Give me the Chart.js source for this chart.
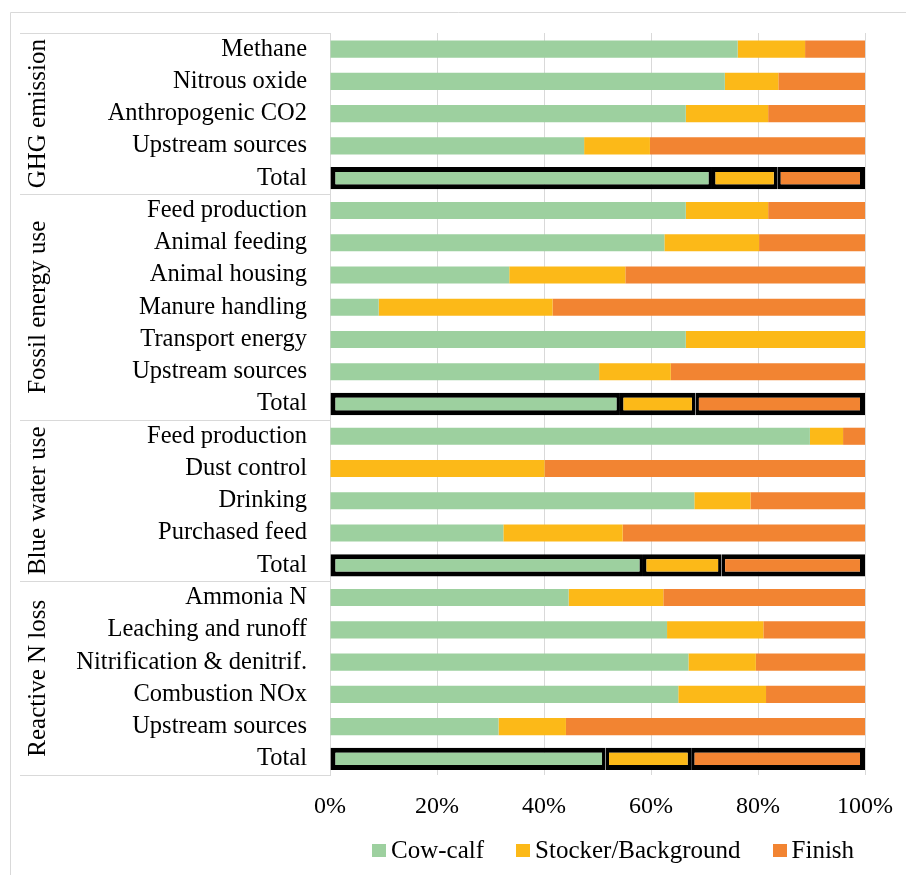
<!DOCTYPE html>
<html>
<head>
<meta charset="utf-8">
<title>Contribution by production phase</title>
<script src="https://cdn.jsdelivr.net/npm/chart.js@4.4.1/dist/chart.umd.min.js"></script>
<style>
  body { margin: 0; background: #fff; }
  #wrap { position: relative; width: 906px; height: 875px; overflow: hidden; }
  #legend { position: absolute; left: 372px; top: 836px; display: flex; font: 25px "Liberation Serif", serif; line-height: 28px; color: #000; }
  .item { display: flex; align-items: center; margin-right: 32px; }
  .box { width: 14px; height: 13px; margin-right: 5px; }
</style>
</head>
<body>
<div id="wrap">
  <canvas id="chart6" width="906" height="875"></canvas>
  <div id="legend"></div>
</div>
<script>
const categories = [
  'Methane', 'Nitrous oxide', 'Anthropogenic CO2', 'Upstream sources', 'Total',
  'Feed production', 'Animal feeding', 'Animal housing', 'Manure handling', 'Transport energy', 'Upstream sources', 'Total',
  'Feed production', 'Dust control', 'Drinking', 'Purchased feed', 'Total',
  'Ammonia N', 'Leaching and runoff', 'Nitrification & denitrif.', 'Combustion NOx', 'Upstream sources', 'Total'
];
const groupNames = ['GHG emission', 'Fossil energy use', 'Blue water use', 'Reactive N loss'];
const groupSizes = [5, 7, 5, 6];

const seriesNames = ['Cow-calf', 'Stocker/Background', 'Finish'];
const cowCalf = [76.2, 73.8, 66.5, 47.5, 71.4, 66.5, 62.5, 33.5, 9.1, 66.5, 50.3, 54.2, 89.7, 0, 68.1, 32.4, 58.5, 44.6, 63.0, 67.0, 65.1, 31.5, 51.5];
const stocker = [12.6, 10.0, 15.4, 12.3, 12.2, 15.4, 17.7, 21.7, 32.5, 33.5, 13.4, 14.1, 6.2, 40.1, 10.5, 22.3, 14.7, 17.7, 18.0, 12.6, 16.4, 12.6, 16.0];
const finish = [11.2, 16.2, 18.1, 40.2, 16.4, 18.1, 19.8, 44.8, 58.4, 0, 36.3, 31.7, 4.1, 59.9, 21.4, 45.3, 26.8, 37.7, 19.0, 20.4, 18.5, 55.9, 32.5];
const xTicks = [0, 20, 40, 60, 80, 100];

const colors = ['#9dd09f', '#fcb918', '#f28432'];
const series = [cowCalf, stocker, finish];
const isTotal = categories.map(c => c === 'Total');

Chart.defaults.font.family = '"Liberation Serif", "Times New Roman", serif';
Chart.defaults.color = '#000';

let datasets = [];
// normal rows
series.forEach((values, i) => {
  datasets.push({
    label: seriesNames[i],
    data: values.map((v, j) => isTotal[j] ? null : v),
    backgroundColor: colors[i],
    barPercentage: 0.53,
    categoryPercentage: 1,
    stack: 'all'
  });
});
// total rows get the thick black outline
series.forEach((values, i) => {
  datasets.push({
    label: seriesNames[i] + ' (total)',
    data: values.map((v, j) => isTotal[j] ? v : null),
    backgroundColor: colors[i],
    borderColor: '#000',
    borderWidth: { top: 5, bottom: 5, left: i == 0 ? 5 : 3.5, right: i == 2 ? 5 : 3.5 },
    borderSkipped: false,
    inflateAmount: 0,
    barPercentage: 0.69,
    categoryPercentage: 1,
    stack: 'all'
  });
});

// frame, group separators and rotated group names on the left
const groupPlugin = {
  id: 'groups',
  beforeDraw(chart) {
    const ctx = chart.ctx;
    const area = chart.chartArea;
    const row = (area.bottom - area.top) / categories.length;
    ctx.save();
    ctx.strokeStyle = '#d9d9d9';
    ctx.lineWidth = 1;
    ctx.beginPath();
    ctx.moveTo(10.5, chart.height);
    ctx.lineTo(10.5, 12.5);
    ctx.lineTo(chart.width, 12.5);
    ctx.stroke();

    let start = 0;
    ctx.beginPath();
    ctx.moveTo(20, Math.round(area.top) + 0.5);
    ctx.lineTo(area.left, Math.round(area.top) + 0.5);
    for (let g = 0; g < groupSizes.length; g++) {
      const yEnd = area.top + (start + groupSizes[g]) * row;
      ctx.moveTo(20, Math.round(yEnd) + 0.5);
      ctx.lineTo(area.left, Math.round(yEnd) + 0.5);
      start += groupSizes[g];
    }
    ctx.stroke();

    ctx.fillStyle = '#000';
    ctx.font = '25px "Liberation Serif", serif';
    ctx.textAlign = 'center';
    ctx.textBaseline = 'alphabetic';
    start = 0;
    for (let g = 0; g < groupSizes.length; g++) {
      const mid = area.top + (start + groupSizes[g] / 2) * row;
      ctx.save();
      ctx.translate(45, mid);
      ctx.rotate(-Math.PI / 2);
      ctx.fillText(groupNames[g], 0, 0);
      ctx.restore();
      start += groupSizes[g];
    }
    ctx.restore();
  }
};

const ctx = document.getElementById('chart6');
new Chart(ctx, {
  type: 'bar',
  data: { labels: categories, datasets: datasets },
  options: {
    indexAxis: 'y',
    responsive: false,
    animation: false,
    layout: { autoPadding: false, padding: { left: 0, right: 41, top: 33, bottom: 0 } },
    plugins: { legend: { display: false }, tooltip: { enabled: false } },
    scales: {
      x: {
        stacked: true,
        min: 0,
        max: 100,
        afterBuildTicks: (scale) => { scale.ticks = xTicks.map(v => ({ value: v })); },
        afterFit: (scale) => {
          scale.height = 100;
          scale.paddingLeft = 0;
          scale.paddingRight = 0;
        },
        grid: { color: '#d9d9d9', drawTicks: false },
        border: { display: false },
        ticks: { padding: 17, font: { size: 24 }, callback: (v) => v + '%' }
      },
      y: {
        stacked: true,
        afterFit: (scale) => {
          scale.width = 330;
          scale.paddingTop = 0;
          scale.paddingBottom = 0;
        },
        grid: { display: false, drawTicks: false },
        border: { color: '#d9d9d9' },
        ticks: { padding: 23, font: { size: 24.5 }, autoSkip: false }
      }
    }
  },
  plugins: [groupPlugin]
});

// legend from the three series
const legend = document.getElementById('legend');
seriesNames.forEach((name, i) => {
  const item = document.createElement('div');
  item.className = 'item';
  const box = document.createElement('span');
  box.className = 'box';
  box.style.background = colors[i];
  const txt = document.createElement('span');
  txt.textContent = name;
  item.appendChild(box);
  item.appendChild(txt);
  legend.appendChild(item);
});
</script>
</body>
</html>
